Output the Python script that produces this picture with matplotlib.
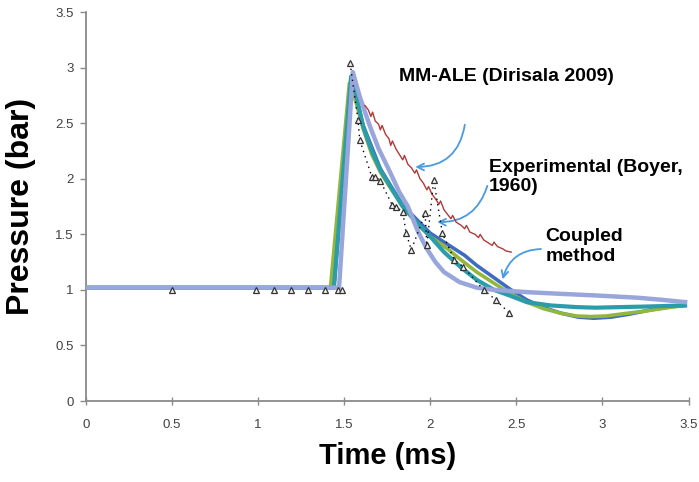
import matplotlib
matplotlib.use("Agg")
import matplotlib.pyplot as plt
from matplotlib.ticker import FormatStrFormatter

plt.rcParams['font.family'] = ['Liberation Sans', 'DejaVu Sans']
narrow = ['Liberation Sans Narrow', 'Liberation Sans', 'DejaVu Sans']

# Experimental (Boyer, 1960) - triangles joined by a dotted line
exp_t = [0.5, 0.99, 1.09, 1.19, 1.29, 1.39, 1.465, 1.49,
         1.534, 1.58, 1.59, 1.66, 1.68, 1.71, 1.78, 1.80, 1.84, 1.86, 1.89,
         1.97, 1.98, 2.02, 2.07, 2.14, 2.19, 2.31, 2.38, 2.46]
exp_p = [1.0, 1.0, 1.0, 1.0, 1.0, 1.0, 1.0, 1.0,
         3.04, 2.53, 2.35, 2.02, 2.02, 1.98, 1.76, 1.75, 1.70, 1.51, 1.36,
         1.69, 1.40, 1.99, 1.51, 1.27, 1.21, 1.00, 0.91, 0.79]

# MM-ALE (Dirisala 2009) - jagged red line
ale_t = [1.62, 1.64, 1.655, 1.665, 1.68, 1.70, 1.71, 1.72, 1.74, 1.76, 1.77, 1.78,
         1.80, 1.82, 1.84, 1.85, 1.87, 1.89, 1.91, 1.92, 1.94, 1.96, 1.98, 1.99,
         2.01, 2.03, 2.05, 2.06, 2.08, 2.10, 2.12, 2.13, 2.15, 2.18, 2.20, 2.21,
         2.23, 2.26, 2.28, 2.29, 2.31, 2.34, 2.36, 2.37, 2.39, 2.42, 2.44, 2.47]
ale_p = [2.66, 2.62, 2.56, 2.60, 2.52, 2.49, 2.44, 2.48, 2.40, 2.36, 2.30, 2.34,
         2.27, 2.22, 2.17, 2.21, 2.13, 2.10, 2.05, 2.08, 2.00, 1.96, 1.90, 1.93,
         1.86, 1.82, 1.77, 1.80, 1.72, 1.68, 1.64, 1.67, 1.61, 1.58, 1.55, 1.58,
         1.52, 1.50, 1.47, 1.50, 1.45, 1.42, 1.40, 1.43, 1.39, 1.37, 1.35, 1.34]

# Coupled method - four curves
blue_t = [0, 1.44, 1.54, 1.61, 1.71, 1.84, 2.0, 2.1, 2.2, 2.27, 2.37, 2.46, 2.56,
          2.66, 2.76, 2.86, 2.95, 3.05, 3.15, 3.28, 3.4, 3.48]
blue_p = [1.02, 1.02, 2.90, 2.48, 2.09, 1.76, 1.51, 1.41, 1.31, 1.22, 1.11, 1.01, 0.91,
          0.84, 0.79, 0.755, 0.745, 0.755, 0.78, 0.82, 0.85, 0.86]

green_t = [0, 1.42, 1.53, 1.57, 1.61, 1.66, 1.71, 1.78, 1.84, 1.92, 2.0, 2.1, 2.17,
           2.27, 2.37, 2.46, 2.56, 2.66, 2.76, 2.85, 2.93, 3.02, 3.12, 3.25, 3.38, 3.48]
green_p = [1.02, 1.02, 2.86, 2.68, 2.45, 2.22, 2.06, 1.89, 1.75, 1.60, 1.48, 1.37, 1.28,
           1.16, 1.06, 0.97, 0.89, 0.83, 0.79, 0.765, 0.76, 0.765, 0.785, 0.81, 0.84, 0.86]

teal_t = [0, 1.44, 1.54, 1.57, 1.61, 1.66, 1.71, 1.78, 1.84, 1.92, 2.0, 2.08, 2.18,
          2.27, 2.37, 2.46, 2.56, 2.7, 2.85, 2.96, 3.1, 3.25, 3.48]
teal_p = [1.02, 1.02, 2.92, 2.75, 2.47, 2.25, 2.08, 1.90, 1.75, 1.61, 1.48, 1.34, 1.20,
          1.09, 1.00, 0.95, 0.89, 0.86, 0.845, 0.84, 0.845, 0.85, 0.86]

lav_t = [0, 1.47, 1.55, 1.59, 1.65, 1.70, 1.76, 1.82, 1.87, 1.93, 1.98, 2.03, 2.08,
         2.17, 2.27, 2.37, 2.56, 2.75, 2.96, 3.2, 3.35, 3.48]
lav_p = [1.02, 1.02, 2.96, 2.74, 2.47, 2.27, 2.08, 1.88, 1.75, 1.52, 1.37, 1.25, 1.16,
         1.07, 1.02, 1.00, 0.98, 0.965, 0.95, 0.93, 0.91, 0.89]

ticks = [0, 0.5, 1, 1.5, 2, 2.5, 3, 3.5]

fig = plt.figure(figsize=(6.99, 4.82), dpi=100)
ax = fig.add_axes([0.123, 0.168, 0.862, 0.807])

ax.plot(blue_t, blue_p, color='#3f6bc0', lw=2.6, zorder=2)
ax.plot(green_t, green_p, color='#93b63c', lw=2.6, zorder=3)
ax.plot(teal_t, teal_p, color='#2a9caa', lw=3.0, zorder=4)
ax.plot(lav_t, lav_p, color='#98a6db', lw=3.2, zorder=5)
ax.plot(ale_t, ale_p, color='#b03a3a', lw=1.0, zorder=6)
ax.plot(exp_t[8:], exp_p[8:], color='black', lw=1.0, ls=(0, (1, 3)), zorder=7)
ax.plot(exp_t, exp_p, ls='none', marker='^', ms=5, mfc='#f2f2f2', mec='#333333',
        mew=0.9, zorder=8)

# annotations with curved blue arrows
arrow = dict(arrowstyle='->', color='#4a9ae0', lw=1.3, mutation_scale=12)
ax.text(1.82, 2.92, 'MM-ALE (Dirisala 2009)', fontsize=14, fontweight='bold',
        va='center', ha='left')
ax.annotate('', xy=(1.897, 2.106), xytext=(2.203, 2.511),
            arrowprops=dict(arrow, connectionstyle='arc3,rad=-0.45'))
ax.text(2.34, 2.02, 'Experimental (Boyer,\n1960)', fontsize=14, fontweight='bold',
        va='center', ha='left', linespacing=1.15)
ax.annotate('', xy=(2.024, 1.611), xytext=(2.336, 1.96),
            arrowprops=dict(arrow, connectionstyle='arc3,rad=-0.4'))
ax.text(2.67, 1.39, 'Coupled\nmethod', fontsize=14, fontweight='bold',
        va='center', ha='left', linespacing=1.2)
ax.annotate('', xy=(2.416, 1.071), xytext=(2.659, 1.368),
            arrowprops=dict(arrow, connectionstyle='arc3,rad=0.4'))

ax.set_xlim(0, 3.5)
ax.set_ylim(0, 3.5)
ax.set_xticks(ticks)
ax.set_yticks(ticks)
ax.xaxis.set_major_formatter(FormatStrFormatter('%g'))
ax.yaxis.set_major_formatter(FormatStrFormatter('%g'))
for s in ['top', 'right']:
    ax.spines[s].set_visible(False)
for s in ['left', 'bottom']:
    ax.spines[s].set_color('#8a8a8a')
    ax.spines[s].set_linewidth(1.3)
ax.tick_params(axis='y', direction='out', length=4, width=1, color='#8a8a8a',
               pad=5, labelcolor='#404040')
ax.tick_params(axis='x', direction='inout', length=6, width=1, color='#8a8a8a',
               pad=10, labelcolor='#404040')
for lab in ax.get_xticklabels() + ax.get_yticklabels():
    lab.set_family(narrow)
    lab.set_fontsize(9.5)

ax.set_xlabel('Time (ms)', fontsize=21, fontweight='bold', labelpad=8)
ax.set_ylabel('Pressure (bar)', fontsize=23, fontweight='bold', labelpad=14)

fig.savefig('out.png', dpi=100)
